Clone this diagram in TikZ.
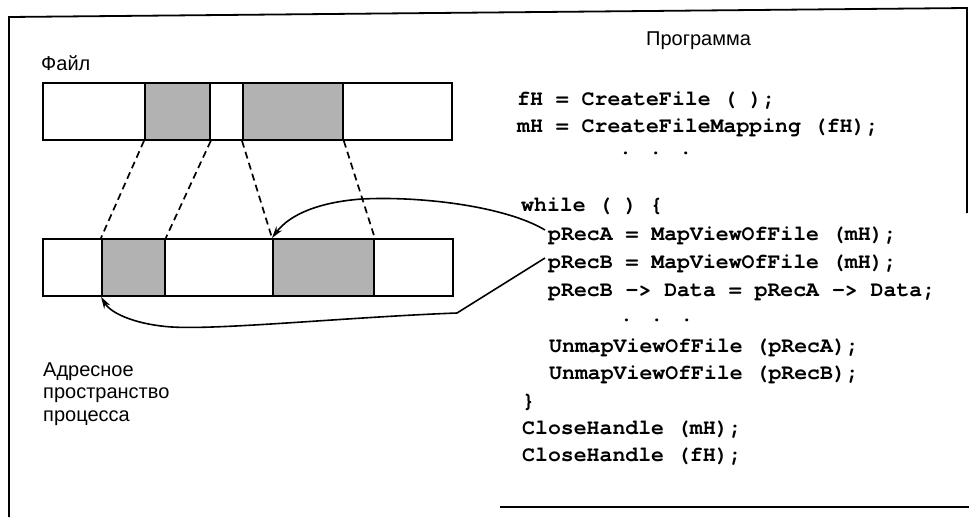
\documentclass[tikz,border=0pt]{standalone}
\usepackage{fontspec}
\setmainfont{Liberation Sans}
\newfontfamily\codefont{TeX Gyre Cursor}
\usetikzlibrary{arrows.meta,calc}
\tikzset{
  seg/.style={draw, line width=1.8pt, rectangle, inner sep=0pt, anchor=north west, minimum height=57pt},
  shaded/.style={fill=black!30},
  code/.style={anchor=base west, inner sep=0pt, font=\codefont\bfseries\fontsize{21.5}{26}\selectfont},
  label/.style={anchor=base west, inner sep=0pt, align=left, font=\fontsize{20}{22.5}\selectfont},
  mapline/.style={dashed, line width=1.7pt, dash pattern=on 7pt off 4.5pt},
  pointer/.style={line width=1.6pt, -{Stealth[length=12pt,width=7pt]}},
  frame/.style={line width=1.8pt}
}
\begin{document}
\begin{tikzpicture}[x=1pt,y=-1pt]
\useasboundingbox (0,0) rectangle (969,517);
% frame
\draw[frame] (9,517) -- (9,17) -- (967,8) -- (967,213);
\draw[frame] (500,507) -- (969,507);
% labels
\node[label] (file) at (41,70) {Файл};
\node[label] (prog) at (646,45) {Программа};
\node[label] (addr) at (43,421) {Адресное\\пространство\\процесса};
% file bar
\node[seg, minimum width=102pt] (t1) at (42,82) {};
\node[seg, shaded, minimum width=65pt] (t2) at (144,82) {};
\node[seg, minimum width=33pt] (t3) at (209,82) {};
\node[seg, shaded, minimum width=100pt] (t4) at (242,82) {};
\node[seg, minimum width=109pt] (t5) at (342,82) {};
% address space bar
\node[seg, minimum width=59pt] (b1) at (42,238) {};
\node[seg, shaded, minimum width=63pt] (b2) at (101,238) {};
\node[seg, minimum width=108pt] (b3) at (164,238) {};
\node[seg, shaded, minimum width=101pt] (b4) at (272,238) {};
\node[seg, minimum width=79pt] (b5) at (373,238) {};
% mapping lines
\draw[mapline] (t2.south west) -- (b2.north west);
\draw[mapline] (t2.south east) -- (b2.north east);
\draw[mapline] (t4.south west) -- (b4.north west);
\draw[mapline] (t4.south east) -- (b4.north east);
% code
\node[code] (c1) at (517,105) {fH = CreateFile ( );};
\node[code] (c2) at (517,132) {mH = CreateFileMapping (fH);};
\node[code] (c3) at (619,154) {. . .};
\node[code] (c4) at (521,211) {while ( ) \{};
\node[code] (c5) at (548,240) {pRecA = MapViewOfFile (mH);};
\node[code] (c6) at (548,268) {pRecB = MapViewOfFile (mH);};
\node[code] (c7) at (548,296) {pRecB -> Data = pRecA -> Data;};
\node[code] (c8) at (620,321) {. . .};
\node[code] (c9) at (549,352) {UnmapViewOfFile (pRecA);};
\node[code] (c10) at (549,379) {UnmapViewOfFile (pRecB);};
\node[code] (c11) at (522,407) {\}};
\node[code] (c12) at (522,434) {CloseHandle (mH);};
\node[code] (c13) at (522,461) {CloseHandle (fH);};
% pointers
\coordinate (pa) at ($(c5.base west)+(-3,-10)$);
\coordinate (pb) at ($(c6.base west)+(-3,-10)$);
\draw[pointer] (pa) .. controls (505,206) and (420,196) .. (362,199)
  .. controls (320,202) and (290,214) .. (b4.north west);
\draw[pointer] (pb) -- (457,313) .. controls (350,317) and (220,330) .. (172,327)
  .. controls (140,325) and (112,315) .. (b2.south west);
\end{tikzpicture}
\end{document}
